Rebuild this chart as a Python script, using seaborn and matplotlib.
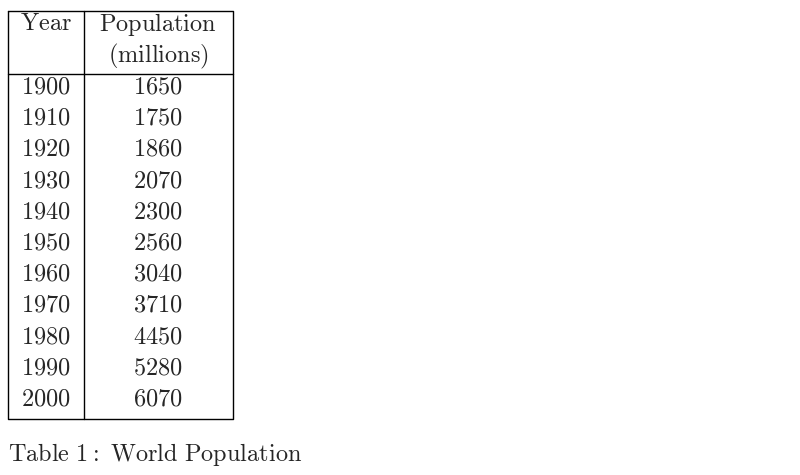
import matplotlib
matplotlib.use("Agg")
import matplotlib.pyplot as plt
import seaborn as sns

years = [1900, 1910, 1920, 1930, 1940, 1950, 1960, 1970, 1980, 1990, 2000]
population = [1650, 1750, 1860, 2070, 2300, 2560, 3040, 3710, 4450, 5280, 6070]
headers = ["Year", "Population\n(millions)"]
caption = "Table 1: World Population"

sns.set_theme(style="white")
plt.rcParams['font.family'] = ['Liberation Serif', 'DejaVu Serif']
plt.rcParams['mathtext.fontset'] = 'cm'

def cm(s):
    return r"$\mathrm{" + s.replace(" ", r"\ ") + "}$"

fig = plt.figure(figsize=(8, 4.75), dpi=100)
ax = fig.add_axes([0, 0, 1, 1])
ax.set_xlim(0, 800)
ax.set_ylim(475, 0)
ax.axis("off")

fs = 17.5
lw = 1.0
left, mid, right = 7.5, 83.5, 232.5
top, hline, bottom = 10.5, 73.5, 418.5
ax.plot([left, right, right, left, left], [top, top, bottom, bottom, top], color="black", lw=lw)
ax.plot([mid, mid], [top, bottom], color="black", lw=lw)
ax.plot([left, right], [hline, hline], color="black", lw=lw)

c1 = (left + mid) / 2
c2 = (mid + right) / 2
ax.text(c1, 25, cm(headers[0]), ha="center", va="center", fontsize=fs)
h2 = headers[1].split("\n")
ax.text(c2, 25, cm(h2[0]), ha="center", va="center", fontsize=fs)
ax.text(c2, 56, cm(h2[1]), ha="center", va="center", fontsize=fs)

for i, (y, p) in enumerate(zip(years, population)):
    yy = 88 + i * 31.2
    ax.text(c1, yy, cm(str(y)), ha="center", va="center", fontsize=fs)
    ax.text(c2, yy, cm(str(p)), ha="center", va="center", fontsize=fs)

ax.text(8, 454, cm(caption), ha="left", va="center", fontsize=fs)
fig.savefig("out.png", dpi=100, facecolor="white")
